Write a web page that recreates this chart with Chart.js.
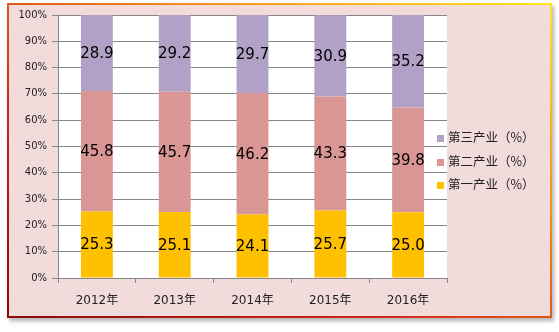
<!DOCTYPE html>
<html><head><meta charset="utf-8">
<script src="https://cdn.jsdelivr.net/npm/chart.js@4"></script>
<style>
html,body{margin:0;padding:0;background:#fff;width:559px;height:332px;overflow:hidden;}
#frame{position:absolute;left:7px;top:3px;width:545px;height:315px;box-sizing:border-box;background:#f2dcdb;border:2px solid #d02010;border-image:linear-gradient(to top right,#8c0808,#d02818 35%,#f08a20 65%,#ffe420) 1;box-shadow:2px 3px 4px rgba(0,0,0,.3);}
#c{position:absolute;left:0;top:0;}
.leg{position:absolute;left:437px;height:16px;line-height:16px;font-size:12.5px;font-family:"Noto Sans CJK SC","DejaVu Sans",sans-serif;color:#222;white-space:nowrap;}
.leg span{display:inline-block;width:7px;height:7px;margin-right:4px;vertical-align:0px;}
</style></head>
<body>
<div id="frame"></div>
<canvas id="c" width="559" height="332"></canvas>
<div id="legend"></div>
<script>
const categories = ['2012年','2013年','2014年','2015年','2016年'];
const primary   = [25.3, 25.1, 24.1, 25.7, 25.0];
const secondary = [45.8, 45.7, 46.2, 43.3, 39.8];
const tertiary  = [28.9, 29.2, 29.7, 30.9, 35.2];
const seriesNames = ['第一产业（%）','第二产业（%）','第三产业（%）'];
const yTicks = [0,10,20,30,40,50,60,70,80,90,100];

const colors = ['#ffc000','#d99694','#b2a1c7'];
const seriesData = [primary, secondary, tertiary];

// HTML legend (reversed order, as in reference)
const legendCenters = [184, 161, 137];
const legDiv = document.getElementById('legend');
seriesNames.forEach((n,i)=>{
  const d=document.createElement('div');
  d.className='leg';
  d.style.top=(legendCenters[i]-8)+'px';
  d.innerHTML='<span style="background:'+colors[i]+'"></span>'+n;
  legDiv.appendChild(d);
});

const areaBg = {id:'areaBg',beforeDraw(chart){const a=chart.chartArea,ctx=chart.ctx;ctx.save();ctx.fillStyle='#fff';ctx.fillRect(a.left,a.top,a.right-a.left,a.bottom-a.top);ctx.restore();}};
const valueLabels = {id:'vals',afterDatasetsDraw(chart){
  const ctx=chart.ctx;ctx.save();
  ctx.font='15px "DejaVu Sans"';ctx.fillStyle='#000';ctx.textAlign='center';ctx.textBaseline='middle';
  chart.data.datasets.forEach((ds,i)=>{
    chart.getDatasetMeta(i).data.forEach((bar,j)=>{
      ctx.fillText(ds.data[j].toFixed(1),bar.x,(bar.y+bar.base)/2+1);
    });
  });
  ctx.restore();
}};

new Chart(document.getElementById('c'),{
  type:'bar',
  data:{labels:categories,datasets:seriesData.map((d,i)=>({label:seriesNames[i],data:d,backgroundColor:colors[i],borderWidth:0,barPercentage:0.41,categoryPercentage:1}))},
  options:{
    responsive:false,animation:false,
    layout:{padding:{top:15,right:112,left:0,bottom:0}},
    plugins:{legend:{display:false},tooltip:{enabled:false}},
    scales:{
      x:{stacked:true,
        grid:{display:true,drawOnChartArea:false,drawTicks:true,tickLength:5,color:'#868686',offset:true},
        border:{color:'#868686'},
        ticks:{padding:11,color:'#222',font:{size:12,family:'"DejaVu Sans","Noto Sans CJK SC"'}},
        afterFit(s){s.height=54;}},
      y:{stacked:true,min:0,max:100,
        afterBuildTicks(s){s.ticks=yTicks.map(v=>({value:v}));},
        grid:{color:'#868686',tickLength:6},
        border:{color:'#868686'},
        ticks:{padding:5,color:'#222',font:{size:10,family:'"DejaVu Sans"'},callback:v=>v+'%'},
        afterFit(s){s.width=58;}}
    }
  },
  plugins:[areaBg,valueLabels]
});
</script>
</body></html>
